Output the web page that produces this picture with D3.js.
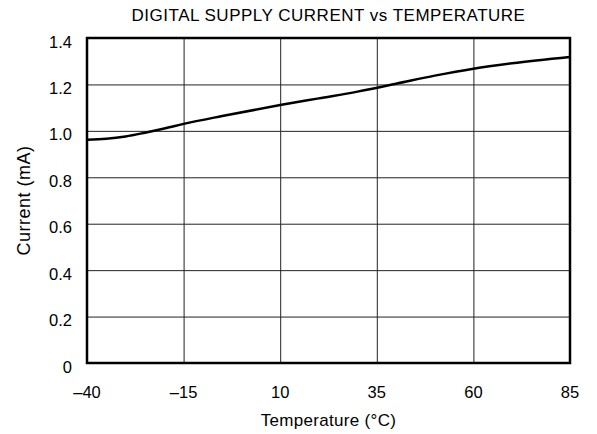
<!DOCTYPE html>
<html>
<head>
<meta charset="utf-8">
<script src="https://cdn.jsdelivr.net/npm/d3@7"></script>
<style>
  body { margin: 0; background: #fff; }
  text { font-family: "Liberation Sans", Arial, sans-serif; fill: #000; }
</style>
</head>
<body>
<div id="app"></div>
<script>
const temperature = [-40, -35, -30, -25, -20, -15, -5, 10, 20, 30, 40, 50, 60, 70, 85];
const current = [0.962, 0.966, 0.976, 0.992, 1.010, 1.030, 1.064, 1.111, 1.140, 1.169, 1.203, 1.238, 1.268, 1.291, 1.318];
const xTicks = [-40, -15, 10, 35, 60, 85];
const yTicks = [0, 0.2, 0.4, 0.6, 0.8, 1.0, 1.2, 1.4];

const W = 597, H = 434;
const m = { left: 87, right: 27, top: 38, bottom: 71 };

const svg = d3.select("#app").append("svg")
  .attr("width", W)
  .attr("height", H);

const x = d3.scaleLinear().domain([-40, 85]).range([m.left, W - m.right]);
const y = d3.scaleLinear().domain([0, 1.4]).range([H - m.bottom, m.top]);

// grid
svg.append("g")
  .attr("transform", `translate(0,${H - m.bottom})`)
  .call(d3.axisBottom(x).tickValues(xTicks).tickSize(-(H - m.top - m.bottom)).tickFormat(""))
  .call(g => g.select(".domain").remove())
  .call(g => g.selectAll("line").attr("stroke", "#222").attr("stroke-width", 1));

svg.append("g")
  .attr("transform", `translate(${m.left},0)`)
  .call(d3.axisLeft(y).tickValues(yTicks).tickSize(-(W - m.left - m.right)).tickFormat(""))
  .call(g => g.select(".domain").remove())
  .call(g => g.selectAll("line").attr("stroke", "#222").attr("stroke-width", 1));

// tick labels
svg.append("g").selectAll("text")
  .data(xTicks).enter().append("text")
  .attr("x", d => x(d))
  .attr("y", H - m.bottom + 35)
  .attr("text-anchor", "middle")
  .style("font-size", "16.5px")
  .text(d => d < 0 ? "\u2013" + Math.abs(d) : d);

svg.append("g").selectAll("text")
  .data(yTicks).enter().append("text")
  .attr("x", m.left - 15)
  .attr("y", d => y(d) + 9.5)
  .attr("text-anchor", "end")
  .style("font-size", "16.5px")
  .text(d => d === 0 ? "0" : d.toFixed(1));

// curve
const line = d3.line()
  .x((d, i) => x(temperature[i]))
  .y(d => y(d))
  .curve(d3.curveMonotoneX);

svg.append("path")
  .datum(current)
  .attr("fill", "none")
  .attr("stroke", "#000")
  .attr("stroke-width", 2.5)
  .attr("d", line);

// frame
svg.append("rect")
  .attr("x", m.left)
  .attr("y", m.top)
  .attr("width", W - m.left - m.right)
  .attr("height", H - m.top - m.bottom)
  .attr("fill", "none")
  .attr("stroke", "#000")
  .attr("stroke-width", 2.5);

// titles
svg.append("text")
  .attr("x", (m.left + W - m.right) / 2)
  .attr("y", 21)
  .attr("text-anchor", "middle")
  .style("font-size", "17px")
  .style("letter-spacing", "0.5px")
  .text("DIGITAL SUPPLY CURRENT vs TEMPERATURE");

svg.append("text")
  .attr("x", (m.left + W - m.right) / 2)
  .attr("y", 426)
  .attr("text-anchor", "middle")
  .style("font-size", "17px")
  .style("letter-spacing", "0.3px")
  .text("Temperature (\u00B0C)");

svg.append("text")
  .attr("transform", `translate(30,${(m.top + H - m.bottom) / 2}) rotate(-90)`)
  .attr("text-anchor", "middle")
  .style("font-size", "18px")
  .style("letter-spacing", "0.5px")
  .text("Current (mA)");
</script>
</body>
</html>
